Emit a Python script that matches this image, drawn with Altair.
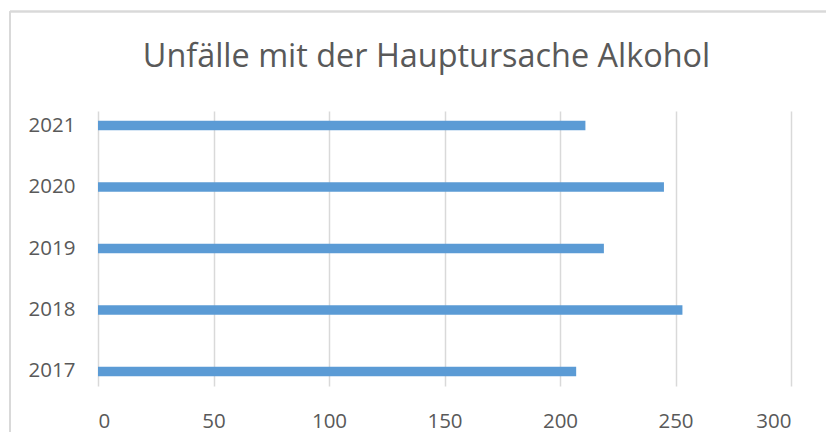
import altair as alt
import pandas as pd

years = ["2017", "2018", "2019", "2020", "2021"]
values = [207, 253, 219, 245, 211]
x_ticks = [0, 50, 100, 150, 200, 250, 300]
title_text = "Unfälle mit der Hauptursache Alkohol"

df = pd.DataFrame({"Jahr": years, "Unfälle": values})
title_df = pd.DataFrame({"t": [title_text]})

FONT = "Open Sans"
TEXT = "#595959"
GRID = "#D9D9D9"

bars = alt.Chart(df).mark_bar(color="#5B9BD5").encode(
    x=alt.X(
        "Unfälle:Q",
        scale=alt.Scale(domain=[0, 300], nice=False),
        axis=alt.Axis(
            values=x_ticks, title=None, grid=True, gridColor=GRID, gridWidth=1.5,
            domain=False, ticks=False, labelFont=FONT, labelFontSize=20.5,
            labelColor=TEXT, labelPadding=25,
        ),
    ),
    y=alt.Y(
        "Jahr:N",
        sort=list(reversed(years)),
        scale=alt.Scale(paddingInner=0.845, paddingOuter=0.16),
        axis=alt.Axis(
            title=None, domain=False, ticks=False, grid=False,
            labelFont=FONT, labelFontSize=20.5, labelColor=TEXT, labelPadding=23,
        ),
    ),
)

border_top = alt.Chart(df).mark_rule(color=GRID, strokeWidth=1.5).encode(
    x=alt.value(-88), x2=alt.value(740), y=alt.value(-99.5)
)
border_left = alt.Chart(df).mark_rule(color=GRID, strokeWidth=1.5).encode(
    x=alt.value(-88), y=alt.value(-99.5), y2=alt.value(330)
)

title = alt.Chart(title_df).mark_text(
    font=FONT, fontSize=32.4, color=TEXT, align="center", baseline="alphabetic"
).encode(text="t:N", x=alt.value(328.5), y=alt.value(-44))

chart = alt.layer(border_top, border_left, bars, title).properties(
    width=693,
    height=275,
    autosize=alt.AutoSizeParams(type="none"),
    padding={"left": 90, "top": 103, "right": 35, "bottom": 46},
    background="white",
).configure_view(stroke=None)

chart.save("out.html", embed_options={"renderer": "svg", "actions": False})
